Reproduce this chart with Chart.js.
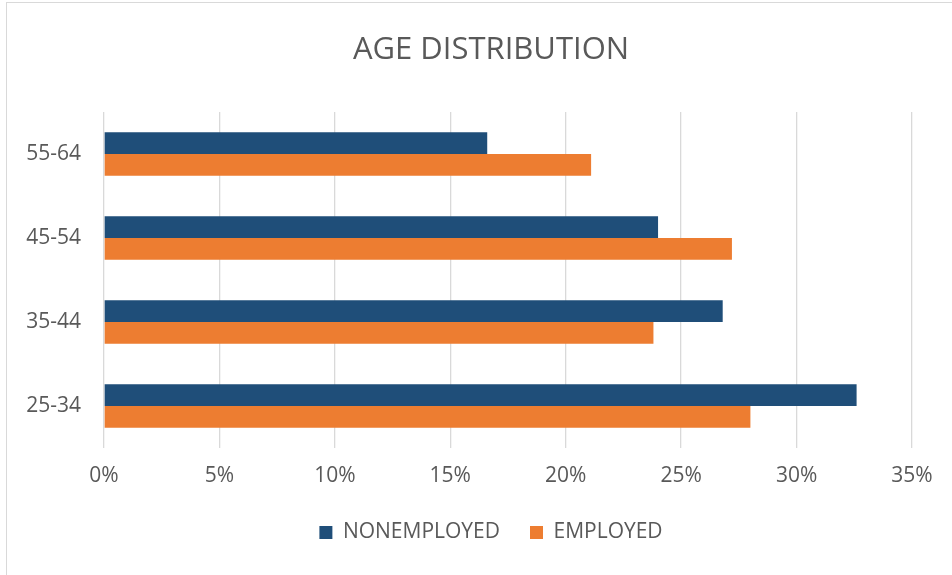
<!DOCTYPE html>
<html>
<head>
<meta charset="utf-8">
<script src="https://cdn.jsdelivr.net/npm/chart.js@4.4.1/dist/chart.umd.min.js"></script>
<style>
  html, body { margin: 0; padding: 0; overflow: hidden; background: #fff; }
  #wrap { position: relative; width: 952px; height: 575px; overflow: hidden; }
  #frame { position: absolute; left: 6px; top: 2px; width: 1000px; height: 620px; border: 1px solid #d9d9d9; box-sizing: border-box; }
  #cv { position: absolute; left: 0; top: 0; }
</style>
</head>
<body>
<div id="wrap">
  <div id="frame"></div>
  <canvas id="cv" width="978" height="575"></canvas>
</div>
<script>
// Age groups, top to bottom as shown
const categories = ['55-64', '45-54', '35-44', '25-34'];
// Percent of each group
const nonemployed = [16.6, 24.0, 26.8, 32.6];
const employed = [21.1, 27.2, 23.8, 28.0];
// x axis tick labels
const xTicks = ['0%', '5%', '10%', '15%', '20%', '25%', '30%', '35%'];

const textColor = '#595959';
const fontFamily = '"Open Sans", "Liberation Sans", sans-serif';

// the original frame is centred a bit right of the plot, shift title and legend to match
const shiftBlocks = {
    id: 'shiftBlocks',
    afterLayout(chart) {
        chart.titleBlock.left = 70;
        chart.legend.left = 70;
        chart.legend.adjustHitBoxes();
    }
};

new Chart(document.getElementById('cv'), {
    type: 'bar',
    data: {
        labels: categories,
        datasets: [
            { label: 'NONEMPLOYED', data: nonemployed, backgroundColor: '#1f4e79', borderWidth: 0 },
            { label: 'EMPLOYED', data: employed, backgroundColor: '#ed7d31', borderWidth: 0 }
        ]
    },
    options: {
        indexAxis: 'y',
        responsive: false,
        animation: false,
        categoryPercentage: 0.52,
        barPercentage: 1,
        layout: { padding: { left: 0, right: 66, top: 0, bottom: 22 } },
        plugins: {
            title: {
                display: true,
                text: 'AGE DISTRIBUTION',
                color: textColor,
                font: { family: fontFamily, size: 31, weight: 'normal' },
                padding: { top: 32, bottom: 42.8 }
            },
            legend: {
                position: 'bottom',
                labels: {
                    color: textColor,
                    font: { family: fontFamily, size: 21 },
                    boxWidth: 13,
                    boxHeight: 13,
                    padding: 30
                }
            },
            tooltip: { enabled: false }
        },
        scales: {
            x: {
                min: 0,
                max: 35,
                ticks: {
                    stepSize: 5,
                    color: textColor,
                    font: { family: fontFamily, size: 21 },
                    padding: 15,
                    callback: (v, i) => xTicks[i]
                },
                grid: { color: '#d9d9d9', lineWidth: 1.3, drawTicks: false },
                border: { display: false },
                afterFit: s => { s.height = 44; }
            },
            y: {
                ticks: {
                    color: textColor,
                    font: { family: fontFamily, size: 21 },
                    padding: 23
                },
                grid: { display: false, drawTicks: false },
                border: { display: false },
                afterFit: s => { s.width = 104; }
            }
        }
    },
    plugins: [shiftBlocks]
});
</script>
</body>
</html>
